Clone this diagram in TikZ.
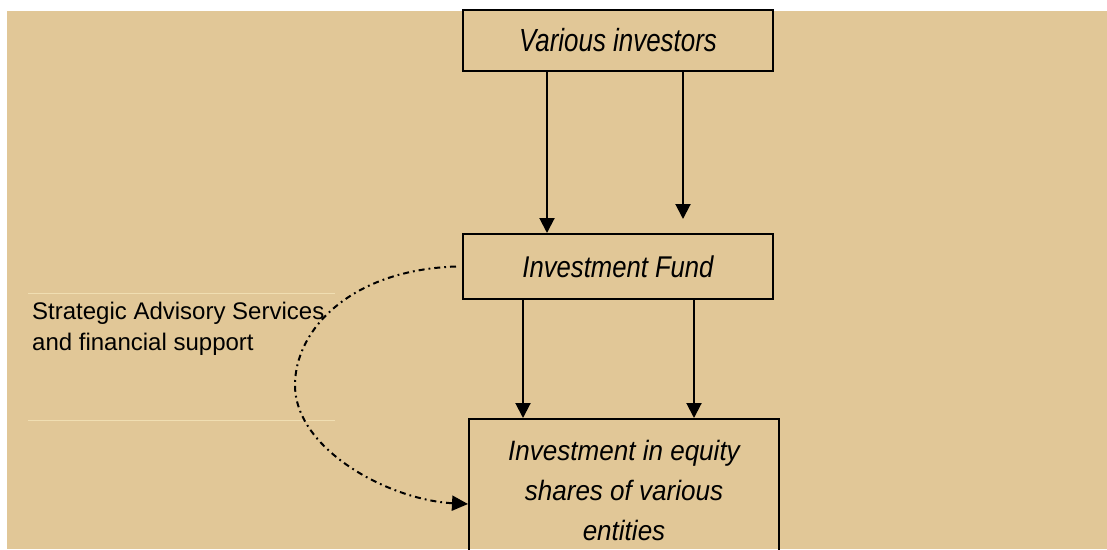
\documentclass[tikz,border=0pt]{standalone}
\usepackage{fontspec}
\setmainfont{Liberation Sans}
\newfontfamily\invfont[FakeStretch=0.81]{Liberation Sans}
\newfontfamily\fundfont[FakeStretch=0.855]{Liberation Sans}
\newfontfamily\eqfont[FakeStretch=0.93]{Liberation Sans}
\usetikzlibrary{arrows.meta,calc}
\definecolor{bgtan}{RGB}{225,199,151}
\definecolor{faint}{RGB}{240,222,178}
\begin{document}
\begin{tikzpicture}[x=1pt,y=-1pt,
  box/.style={draw=black,line width=2pt,minimum width=310pt,inner sep=0pt,align=center},
  flow/.style={line width=2pt,-{Triangle[width=15pt,length=15pt]}},
  advice/.style={line width=2pt,dash pattern=on 6pt off 4pt on 1.8pt off 4pt,
    -{Triangle[width=15pt,length=16pt]}},
  note/.style={font=\fontsize{24}{31}\selectfont,align=left,inner sep=0pt},
  guide/.style={draw=faint,line width=1pt}]
\useasboundingbox (0,0) rectangle (1107,549);
\clip (0,0) rectangle (1107,549);
\fill[bgtan] (7,11) rectangle (1107,549);
\draw[guide] (28,293) -- (335,293);
\draw[guide] (28,420) -- (335,420);

\node[box,minimum height=61pt,font=\invfont\fontsize{32}{40}\selectfont\itshape]
  (inv) at (618,40.5) {Various investors};
\node[box,minimum height=65pt,font=\fundfont\fontsize{30}{40}\selectfont\itshape]
  (fund) at (618,266.5) {Investment Fund};
\node[box,minimum height=142pt,anchor=north west,font=\eqfont\fontsize{28}{40}\selectfont\itshape]
  (eq) at (468,418) {Investment in equity\\shares of various\\entities};
\node[note,anchor=north west] (lbl) at (32,302)
  {Strategic Advisory Services\\and financial support};

\coordinate (stop) at (683,219);
\draw[flow] ([xshift=-71pt]inv.south) -- ([xshift=-71pt]inv.south |- fund.north);
\draw[flow] ([xshift=65pt]inv.south) -- (stop);
\draw[flow] ([xshift=-95pt]fund.south) -- ([xshift=-95pt]fund.south |- eq.north);
\draw[flow] ([xshift=76pt]fund.south) -- ([xshift=76pt]fund.south |- eq.north);

\draw[advice] ([xshift=-6pt]fund.west) .. controls (350,270) and (295,330) .. (295,385)
  .. controls (295,450) and (390,500) .. ([yshift=-14pt]eq.west);
\end{tikzpicture}
\end{document}
